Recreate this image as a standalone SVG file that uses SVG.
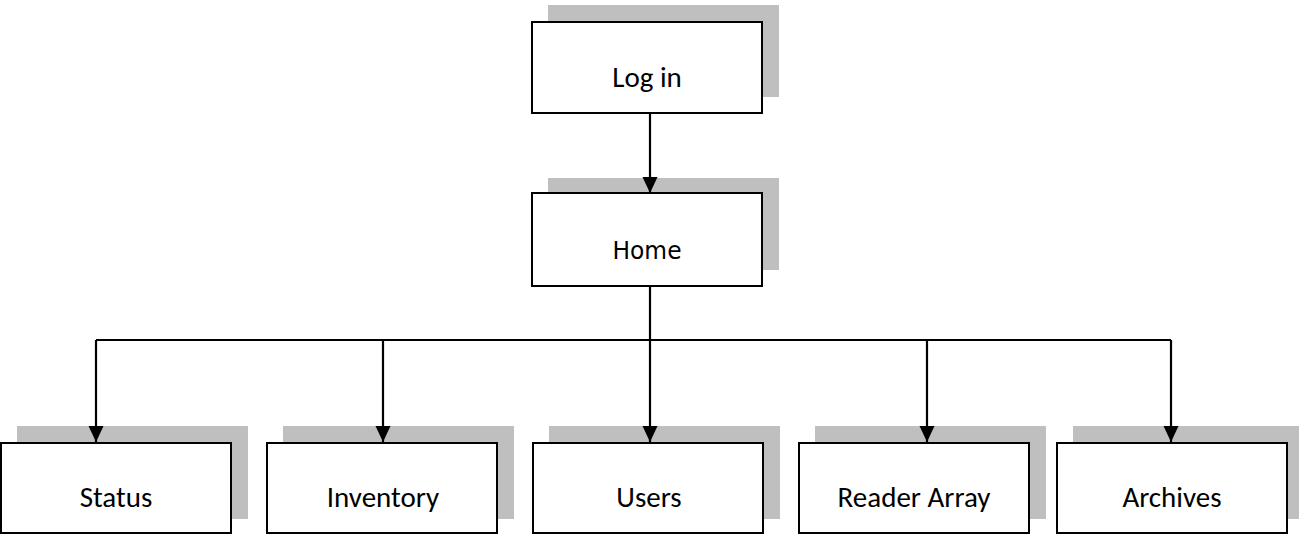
<svg xmlns="http://www.w3.org/2000/svg" width="1299" height="534" viewBox="0 0 1299 534">
<style>
.sh{fill:#bfbfbf;stroke:none}
.bx{fill:#fff;stroke:#000;stroke-width:2}
.t{font-family:Carlito,Calibri,Lato,"Liberation Sans",sans-serif;font-size:29px;fill:#000;text-anchor:middle}
.th{font-family:"DejaVu Sans",sans-serif;font-size:25px;fill:#000;text-anchor:middle}
.ln{fill:none;stroke:#000;stroke-width:2.2}
</style>
<defs>
<marker id="ah" markerUnits="userSpaceOnUse" markerWidth="16" markerHeight="16" refX="16" refY="8" orient="auto">
<path d="M0,0.5 L16,8 L0,15.5 Z" fill="#000"/>
</marker>
</defs>
<g id="login">
<rect class="sh" x="548" y="5" width="231" height="92"/>
<rect class="bx" x="532" y="22" width="230" height="91"/>
<text class="t" x="647" y="87">Log in</text>
</g>
<g id="home">
<rect class="sh" x="548" y="178" width="231" height="92"/>
<rect class="bx" x="532" y="193" width="230" height="93"/>
<text class="th" x="647" y="259" textLength="69" lengthAdjust="spacingAndGlyphs">Home</text>
</g>
<g id="status">
<rect class="sh" x="17" y="426" width="231" height="93"/>
<rect class="bx" x="1" y="443" width="230" height="90"/>
<text class="t" x="116" y="507">Status</text>
</g>
<g id="inventory">
<rect class="sh" x="283" y="426" width="231" height="93"/>
<rect class="bx" x="267" y="443" width="230" height="90"/>
<text class="t" x="383" y="507">Inventory</text>
</g>
<g id="users">
<rect class="sh" x="549" y="426" width="231" height="93"/>
<rect class="bx" x="533" y="443" width="230" height="90"/>
<text class="t" x="649" y="507">Users</text>
</g>
<g id="reader-array">
<rect class="sh" x="815" y="426" width="231" height="93"/>
<rect class="bx" x="799" y="443" width="230" height="90"/>
<text class="t" x="914" y="507">Reader Array</text>
</g>
<g id="archives">
<rect class="sh" x="1073" y="426" width="226" height="93"/>
<rect class="bx" x="1057" y="443" width="230" height="90"/>
<text class="t" x="1172" y="507">Archives</text>
</g>
<g id="connectors">
<path class="ln" d="M650,114 V193" marker-end="url(#ah)"/>
<path class="ln" d="M650,286 V340"/>
<path class="ln" d="M96,340 H1171"/>
<path class="ln" d="M96,340 V442" marker-end="url(#ah)"/>
<path class="ln" d="M383,340 V442" marker-end="url(#ah)"/>
<path class="ln" d="M650,340 V442" marker-end="url(#ah)"/>
<path class="ln" d="M927,340 V442" marker-end="url(#ah)"/>
<path class="ln" d="M1171,340 V442" marker-end="url(#ah)"/>
</g>
</svg>
